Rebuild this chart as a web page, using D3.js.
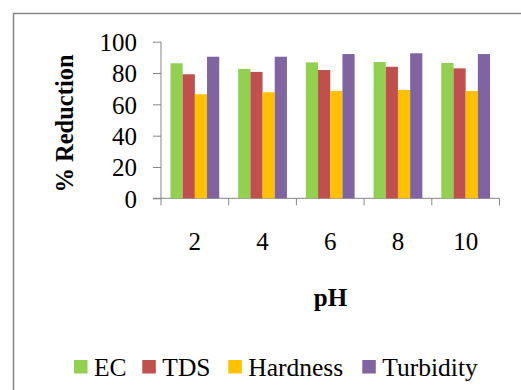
<!DOCTYPE html>
<html><head><meta charset="utf-8">
<script src="https://cdn.jsdelivr.net/npm/d3@7"></script>
</head><body style="margin:0;background:#fff">
<svg id="c" width="521" height="390"></svg>
<script>
const categories = ["2","4","6","8","10"];
const seriesNames = ["EC","TDS","Hardness","Turbidity"];
const EC = [86.2, 82.6, 86.8, 87.0, 86.4];
const TDS = [79.2, 80.7, 81.9, 84.0, 83.0];
const Hardness = [66.4, 67.7, 68.5, 69.2, 68.5];
const Turbidity = [90.4, 90.4, 92.1, 92.6, 92.1];
const colors = ["#92D050","#C0504D","#FFC000","#8064A2"];
const yTicks = [0,20,40,60,80,100];
const series = [EC, TDS, Hardness, Turbidity];
const FONT = "'Liberation Serif'";

const svg = d3.select("#c");
svg.append("rect").attr("x",13.5).attr("y",13.5).attr("width",700).attr("height",600)
  .attr("fill","none").attr("stroke","#878787").attr("stroke-width",1.5);

const x0 = d3.scaleBand().domain(categories).range([161,499.5]);
const x1 = d3.scaleBand().domain(seriesNames).range([x0.bandwidth()*0.14, x0.bandwidth()*0.86]);
const y = d3.scaleLinear().domain([0,100]).range([198.3,41.7]);

const gy = svg.append("g").attr("transform","translate(161,0)")
  .call(d3.axisLeft(y).tickValues(yTicks).tickSize(8).tickPadding(16));
gy.attr("font-family",null);
gy.select(".domain").attr("stroke","#868686").attr("d","M0,"+y(0)+"V"+y(100));
gy.selectAll(".tick line").attr("stroke","#868686");
gy.selectAll("text").attr("font-size",25).style("font-family",FONT).attr("dy","0.35em");

const gx = svg.append("g").attr("transform","translate(0,"+y(0)+")")
  .call(d3.axisBottom(x0).tickSize(0).tickPadding(0));
gx.attr("font-family",null);
gx.select(".domain").attr("stroke","#868686").attr("d","M153,0H499.5");
gx.selectAll(".tick text").attr("font-size",25).style("font-family",FONT).attr("y",52).attr("dy",0);
const bounds = categories.map(c=>x0(c)).concat([x0(categories[categories.length-1])+x0.bandwidth()]);
gx.selectAll(".btick").data(bounds).enter().append("line")
  .attr("x1",d=>d).attr("x2",d=>d).attr("y1",0).attr("y2",7).attr("stroke","#868686");

const groups = svg.append("g").selectAll("g").data(categories).enter().append("g")
  .attr("transform",c=>"translate("+x0(c)+",0)");
groups.selectAll("rect").data((c,i)=>seriesNames.map((s,j)=>({s:s,v:series[j][i],j:j}))).enter().append("rect")
  .attr("x",d=>x1(d.s)).attr("width",x1.bandwidth())
  .attr("y",d=>y(d.v)).attr("height",d=>y(0)-y(d.v))
  .attr("fill",d=>colors[d.j]);

svg.append("text").attr("transform","translate(73,123.5) rotate(-90)")
  .attr("text-anchor","middle").attr("font-size",24.5).attr("font-weight","bold").style("font-family",FONT).text("% Reduction");
svg.append("text").attr("x",330.5).attr("y",306).attr("text-anchor","middle")
  .attr("font-size",25).attr("font-weight","bold").style("font-family",FONT).text("pH");

const legX = [74, 142.3, 228.3, 362.3];
const lg = svg.append("g").selectAll("g").data(seriesNames).enter().append("g")
  .attr("transform",(d,i)=>"translate("+legX[i]+",0)");
lg.append("rect").attr("x",0).attr("y",360).attr("width",13.5).attr("height",13.5).attr("fill",(d,i)=>colors[i]);
lg.append("text").attr("x",20).attr("y",375.5).attr("font-size",25.5).style("font-family",FONT).text(d=>d);
</script>
</body></html>
